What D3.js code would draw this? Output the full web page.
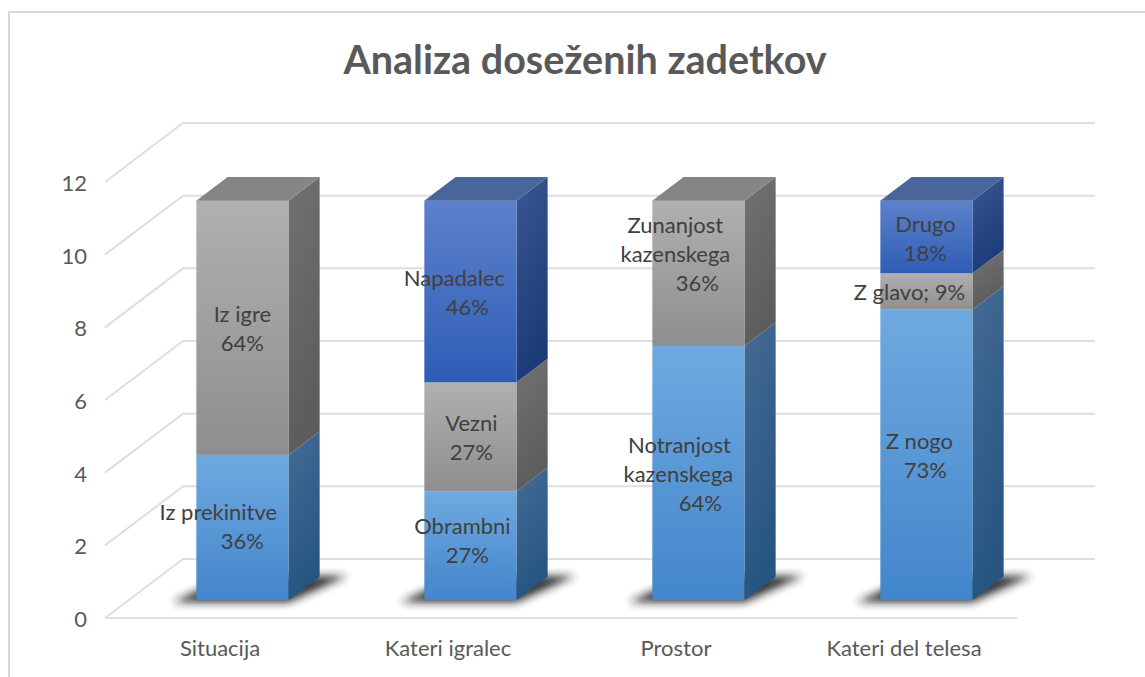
<!DOCTYPE html>
<html><head><meta charset="utf-8">
<script src="https://cdn.jsdelivr.net/npm/d3@7"></script>
<style>html,body{margin:0;padding:0;background:#fff}svg{display:block}text{font-family:Lato,"Open Sans",sans-serif}</style>
</head><body><div id="chart"></div>
<script>
const title = "Analiza doseženih zadetkov";
const categories = ["Situacija","Kateri igralec","Prostor","Kateri del telesa"];
const tickValues = [0,2,4,6,8,10,12];
const seriesBottom = [4,3,7,8];
const seriesMiddle = [7,3,4,1];
const seriesTop = [0,5,0,2];
const labelsBottom = [["Iz prekinitve","36%"],["Obrambni","27%"],["Notranjost","kazenskega","64%"],["Z nogo","73%"]];
const labelsMiddle = [["Iz igre","64%"],["Vezni","27%"],["Zunanjost","kazenskega","36%"],["Z glavo; 9%"]];
const labelsTop = [[],["Napadalec","46%"],[],["Drugo","18%"]];
const W = 1145, H = 677;
const svg = d3.select("#chart").append("svg").attr("width",W).attr("height",H);
const defs = svg.append("defs");
function grad(id,c0,c1,x2,y2){
  const g = defs.append("linearGradient").attr("id",id).attr("x1",0).attr("y1",0).attr("x2",x2).attr("y2",y2);
  g.append("stop").attr("offset",0).attr("stop-color",c0);
  g.append("stop").attr("offset",1).attr("stop-color",c1);
}
const palette = [
 {k:"b",front:["#6fa9e0","#4386cb"],side:["#456b94","#265582"],top:"#466c96"},
 {k:"g",front:["#b0b0b0","#8e8e8e"],side:["#727272","#5c5c5c"],top:"#858585"},
 {k:"d",front:["#5d81cb","#2e5db6"],side:["#3a5890","#1b3a78"],top:"#4a649c"}
];
palette.forEach(p=>{grad("f"+p.k,p.front[0],p.front[1],0,1);grad("s"+p.k,p.side[0],p.side[1],0.3,1);});
defs.append("filter").attr("id","blur").attr("x","-30%").attr("y","-80%").attr("width","160%").attr("height","260%")
  .append("feGaussianBlur").attr("stdDeviation",4);

// frame (open at right and bottom, as cropped in the reference)
svg.append("path").attr("d",`M9,${H}V12H${W}`).attr("fill","none").attr("stroke","#d9d9d9").attr("stroke-width",2);
svg.append("text").attr("x",585).attr("y",74).attr("text-anchor","middle").attr("font-size",39.5).attr("font-weight",700).attr("fill","#595959").text(title);

const y = d3.scaleLinear().domain([0,12]).range([618,182]);
const x = d3.scaleBand().domain(categories).range([105,1017]).paddingInner(0.596).paddingOuter(0.298);
// depth projection: d in [0,1] from front to back wall
const DX = 78, DY = -59;
const px = (xv,d)=>xv+DX*d, py = (v,d)=>y(v)+DY*d;
const line = pts => "M"+pts.map(p=>p.join(",")).join("L");
const D0 = 0.3, D1 = 0.7;

// gridlines
const grid = svg.append("g").attr("fill","none").attr("stroke","#dedede").attr("stroke-width",2);
tickValues.forEach(t=>{
  grid.append("path").attr("d",line([[px(105,0),py(t,0)],[px(105,1),py(t,1)],[px(1017,1),py(t,1)]]));
});
grid.append("path").attr("d",line([[105,618],[1017,618]]));

// axis labels
const yAxis = d3.axisLeft(y).tickValues(tickValues).tickSize(0).tickPadding(0);
const ya = svg.append("g").attr("transform","translate(87,1)").call(yAxis);
ya.select(".domain").remove();
ya.selectAll("text").attr("font-size",22).attr("fill","#595959").attr("dy","0.34em").style("font-family","Lato,'Open Sans',sans-serif");
const xAxis = d3.axisBottom(x).tickSize(0).tickPadding(0);
const xa = svg.append("g").attr("transform","translate(1,640)").call(xAxis);
xa.select(".domain").remove();
xa.selectAll("text").attr("font-size",22).attr("fill","#595959").attr("dy","0.71em").style("font-family","Lato,'Open Sans',sans-serif");

// bars
const series = [seriesBottom,seriesMiddle,seriesTop];
const labels = [labelsBottom,labelsMiddle,labelsTop];
const stackGen = d3.stack().keys([0,1,2]).value((d,k)=>series[k][d]);
const stacked = stackGen(categories.map((c,i)=>i));
categories.forEach((c,i)=>{
  const x0 = x(c), x1 = x0 + x.bandwidth();
  const fl = px(x0,D0), fr = px(x1,D0), br = px(x1,D1), bl = px(x0,D1);
  const g = svg.append("g");
  g.append("path").attr("filter","url(#blur)").attr("fill","#1c1c1c").attr("opacity",0.9)
    .attr("d",line([[fl-24,py(0,D0)+2],[fr,py(0,D0)+2],[br+28,py(0,D1)-1],[bl,py(0,D1)]])+"Z");
  let topSeg = null;
  stacked.forEach((s,k)=>{
    const [a,b] = s[i]; if(b<=a) return;
    const p = palette[k];
    g.append("path").attr("fill",`url(#s${p.k})`).attr("d",line([[fr,py(a,D0)],[br,py(a,D1)],[br,py(b,D1)],[fr,py(b,D0)]])+"Z");
    g.append("rect").attr("x",fl).attr("width",fr-fl).attr("y",py(b,D0)).attr("height",py(a,D0)-py(b,D0)).attr("fill",`url(#f${p.k})`);
    topSeg = {b,p};
  });
  g.append("path").attr("fill",topSeg.p.top).attr("d",line([[fl,py(topSeg.b,D0)],[fr,py(topSeg.b,D0)],[br,py(topSeg.b,D1)],[bl,py(topSeg.b,D1)]])+"Z");
});
// data labels, with the manual per-line nudges seen in the reference
const lh = 29;
const nudges = [
  [{dy:-2,dx:[-24,0]},{dy:-6,dx:[-8,-3]},{dy:0,dx:[-19,-20,2]},{dy:0,dx:[-7,-1]}],
  [{dy:0,dx:[0,0]},{dy:0,dx:[1,1]},{dy:-20,dx:[-23,-23,-1]},{dy:0,dx:[-17]}],
  [null,{dy:0,dx:[-16,-3]},null,{dy:1,dx:[-1,-1]}]
];
categories.forEach((c,i)=>{
  const cx = px(x(c),D0)+x.bandwidth()/2;
  stacked.forEach((s,k)=>{
    const [a,b] = s[i]; const lines = labels[k][i]; if(!lines.length) return;
    const mid = (py(a,D0)+py(b,D0))/2, n = nudges[k][i];
    const t = svg.append("text").attr("text-anchor","middle").attr("font-size",22).attr("fill","#404040");
    lines.forEach((l,j)=>t.append("tspan").attr("x",cx+n.dx[j]).attr("y",mid+(j-(lines.length-1)/2)*lh+9+n.dy).text(l));
  });
});
</script></body></html>
